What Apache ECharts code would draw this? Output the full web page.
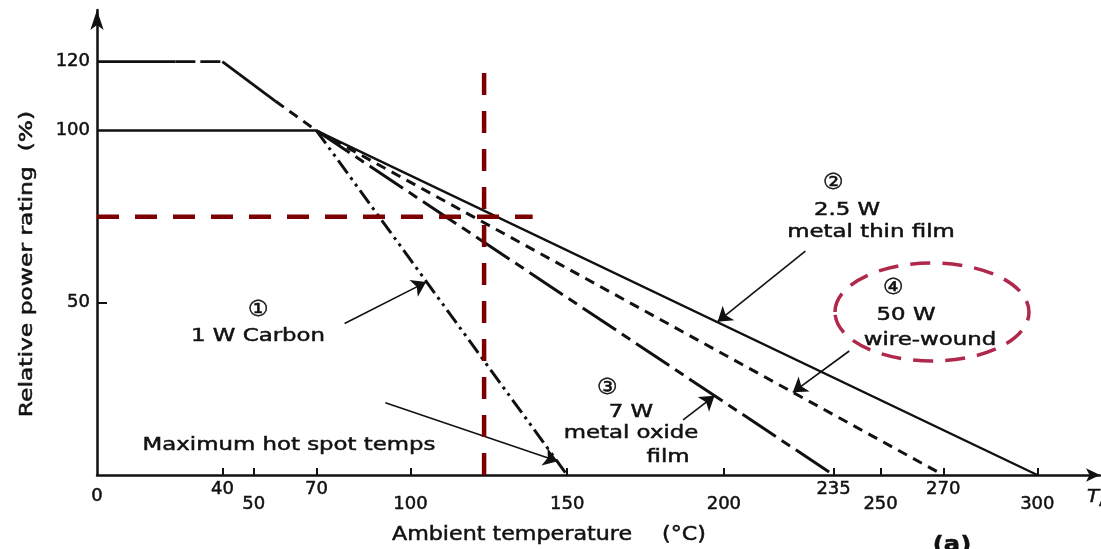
<!DOCTYPE html>
<html>
<head>
<meta charset="utf-8">
<script src="https://cdn.jsdelivr.net/npm/echarts/dist/echarts.min.js"></script>
<style>
	html, body { margin: 0; padding: 0; background: #fff; }
	#chart { width: 1101px; height: 549px; }
</style>
</head>
<body>
<div id="chart"></div>
<script>
// axis ticks and labels
var xTicks = [40, 50, 70, 100, 150, 200, 235, 250, 270, 300];
var xLabelsHigh = [40, 70, 235, 270];
var xLabelsLow = [50, 100, 150, 200, 250, 300];
var xLabelsZero = [0];
var yLabels = [50, 100, 120];
var yTicks = [50];

// derating curves [temperature, % rating]
var thinFilm = [[0, 100], [70, 100], [300, 0]];
var carbon = [[70, 100], [150, 0]];
var metalOxide = [[70, 100], [235, 0]];
var wireFlatSolid = [[0, 120], [25, 120]];
var wireFlatDash = [[25, 120], [40, 120]];
var wireSlopeSolid = [[40, 120], [57, 108.5]];
var wireDash = [[57, 108.5], [70, 100], [270, 0]];

// red guide lines
var guideH = [[0, 75], [139, 75]];
var guideV = [[123.5, 0], [123.5, 117]];

// annotation arrows [tail, head]
var arrows = [
	[[79, 44], [105, 56]],
	[[92, 21], [147, 4]],
	[[187, 16], [197, 23]],
	[[226, 65], [198, 44.5]],
	[[240, 36], [222, 24]]
];

var FONT = '"DejaVu Sans", "Noto Sans CJK SC", sans-serif';
var INK = '#111111';

function lineSeries(data, width, dash, color){
	return {
		type : 'line',
		data : data,
		symbol : 'none',
		silent : true,
		animation : false,
		lineStyle : { color : color || INK, width : width, type : dash || 'solid', cap : 'butt' }
	};
}

function label(text, x, y, size, opts){
	opts = opts || {};
	return {
		type : 'text',
		x : x,
		y : y,
		scaleX : opts.scaleX || 1.27,
		rotation : opts.rotation || 0,
		style : {
			text : text,
			fill : INK,
			stroke : INK,
			lineWidth : 0.5,
			font : (opts.style || 'normal') + ' ' + (opts.weight || 'normal') + ' ' + size + 'px ' + FONT,
			textAlign : opts.align || 'center',
			textVerticalAlign : 'middle'
		}
	};
}

function extend(){
	return Object.assign.apply(null, arguments);
}

var tickFont = { fontSize : 18, fontFamily : FONT, color : INK, textBorderColor : INK, textBorderWidth : 0.5 };

var baseX = { type : 'value', min : 0, max : 320, position : 'bottom', splitLine : { show : false } };

function labelAxis(values, margin){
	return extend({}, baseX, {
		axisLine : { show : false },
		axisTick : { show : false },
		axisLabel : extend({ customValues : values, margin : margin, showMinLabel : true }, tickFont)
	});
}

var xAxes = [
	extend({}, baseX, {
		axisLine : { show : true, lineStyle : { color : INK, width : 2.5 }, symbol : ['none', 'arrow'], symbolSize : [10, 14] },
		axisTick : { show : true, inside : true, length : 7, customValues : xTicks, lineStyle : { color : INK, width : 2 } },
		axisLabel : extend({ customValues : xLabelsHigh, margin : 5 }, tickFont)
	}),
	labelAxis(xLabelsLow, 20),
	labelAxis(xLabelsZero, 12)
];

var option = {
	animation : false,
	grid : { left : 97, right : 1, top : 10, bottom : 74 },
	xAxis : xAxes,
	yAxis : {
		type : 'value',
		min : 0,
		max : 135,
		splitLine : { show : false },
		axisLine : { show : true, lineStyle : { color : INK, width : 2.5 }, symbol : ['none', 'arrow'], symbolSize : [10, 20] },
		axisTick : { show : true, inside : true, length : 10, customValues : yTicks, lineStyle : { color : INK, width : 2 } },
		axisLabel : extend({ customValues : yLabels, margin : 7 }, tickFont)
	},
	series : [
		lineSeries(thinFilm, 2.4),
		lineSeries(carbon, 3, [16, 5, 3, 5, 3, 5]),
		lineSeries(metalOxide, 3, [40, 7, 10, 7]),
		lineSeries(wireFlatSolid, 2.6),
		lineSeries(wireFlatDash, 2.6, [20, 5]),
		lineSeries(wireSlopeSolid, 2.8),
		lineSeries(wireDash, 3, [10, 7]),
		lineSeries(guideH, 4.5, [22, 16], '#7d0000'),
		lineSeries(guideV, 4.5, [22, 16], '#7d0000'),
		{
			type : 'lines',
			coordinateSystem : 'cartesian2d',
			silent : true,
			animation : false,
			symbol : ['none', 'arrow'],
			symbolSize : [8, 14],
			lineStyle : { color : INK, width : 1.6, opacity : 1 },
			data : arrows.map(function(a){ return { coords : a }; })
		}
	],
	graphic : [
		{
			type : 'ellipse',
			shape : { cx : 932, cy : 312, rx : 97, ry : 49 },
			style : { fill : 'none', stroke : '#b0284b', lineWidth : 3.5, lineDash : [20, 12] },
			silent : true
		},
		label('\u2460', 258, 310, 22, { scaleX : 1.05 }),
		label('1 W Carbon', 258, 336, 18),
		label('Maximum hot spot temps', 289, 445, 18),
		label('\u2462', 607, 388, 22, { scaleX : 1.05 }),
		label('7 W', 631, 412, 18),
		label('metal oxide', 631, 433, 18),
		label('film', 668, 457, 18),
		label('\u2461', 833, 183, 22, { scaleX : 1.05 }),
		label('2.5 W', 847, 210, 18),
		label('metal thin film', 871, 232, 18),
		label('\u2463', 893, 288, 22, { scaleX : 1.05 }),
		label('50 W', 906, 315, 18),
		label('wire-wound', 930, 340, 18),
		label('Ambient temperature', 512, 535, 20, { scaleX : 1.11 }),
		label('(\u00b0C)', 684, 535, 20, { scaleX : 1.11 }),
		label('Relative power rating  (%)', 27, 264, 18, { scaleX : 1.3, rotation : Math.PI / 2 }),
		label('T', 1087, 497, 18, { align : 'left', style : 'italic', scaleX : 1.1 }),
		label('A', 1099, 503, 12, { align : 'left', scaleX : 1.1 }),
		label('(a)', 952, 545, 22, { weight : 'bold', scaleX : 1.1 })
	]
};

var chart = echarts.init(document.getElementById('chart'));
chart.setOption(option);
</script>
</body>
</html>
